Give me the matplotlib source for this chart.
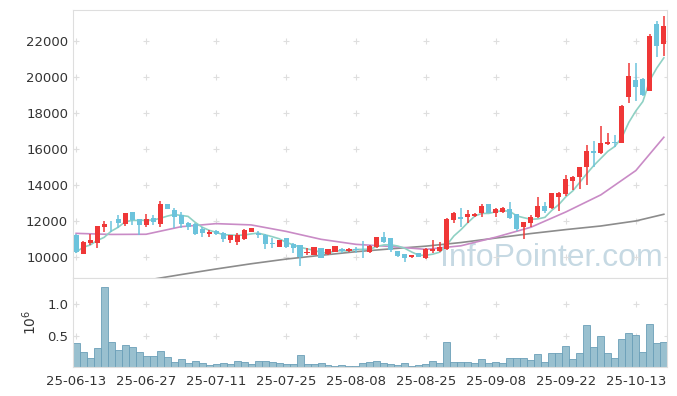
import matplotlib
matplotlib.use("Agg")
import matplotlib.pyplot as plt
import numpy as np
import pandas as pd

# trading days (KRX, holidays removed)
holidays = ["2025-08-15", "2025-10-03", "2025-10-06", "2025-10-07", "2025-10-08", "2025-10-09"]
dates = pd.bdate_range("2025-06-13", "2025-10-17")
dates = dates[~dates.isin(pd.to_datetime(holidays))]

# OHLC
opens = [11180, 10190, 10800, 10760, 11670, 11990, 12060, 11815, 12460, 12060,
         11780, 12150, 11815, 12940, 12570, 12280, 11870, 11815, 11500, 11300,
         11430, 11315, 10950, 10850, 11000, 11410, 11320, 11220, 10760, 10574,
         11000, 10704, 10630, 10200, 10111, 10444, 10148, 10296, 10390, 10330,
         10400, 10440, 10260, 10574, 11093, 11040, 10300, 10111, 9981, 10167,
         9963, 10350, 10352, 10426, 12056, 12170, 12241, 12300, 12426, 12889,
         12426, 12519, 12648, 12333, 11685, 11907, 12241, 12778, 12704, 13315,
         13481, 14241, 14463, 14981, 15889, 15796, 16278, 16370, 16352, 18907,
         19833, 19889, 19222, 22944, 21815]
highs = [11260, 10900, 11300, 11680, 12020, 12000, 12330, 12430, 12520, 12060,
         12370, 12330, 13130, 12940, 12700, 12480, 11930, 11870, 11680, 11500,
         11480, 11400, 11200, 11315, 11540, 11600, 11440, 11260, 11040, 10890,
         11000, 10760, 10680, 10480, 10520, 10480, 10440, 10574, 10520, 10480,
         10570, 10890, 10650, 11093, 11370, 11040, 10350, 10111, 10111, 10167,
         10481, 10944, 10852, 12150, 12519, 12704, 12611, 12460, 12926, 12889,
         12741, 12800, 13037, 12333, 11963, 12333, 13352, 13074, 13500, 13600,
         14556, 14519, 14981, 16222, 16444, 17278, 16870, 16778, 18444, 20796,
         20796, 19963, 22389, 23130, 23389]
lows = [10200, 10180, 10650, 10480, 11400, 11400, 11630, 11740, 11780, 11220,
        11650, 11780, 11685, 12670, 11630, 11630, 11500, 11220, 11130, 11130,
        11200, 10850, 10800, 10670, 10950, 11380, 11070, 10440, 10480, 10574,
        10480, 10200, 9500, 10130, 10100, 9926, 10111, 10250, 10200, 10300,
        10240, 9930, 10200, 10500, 10800, 10250, 10000, 9741, 9950, 9981,
        9889, 10204, 10300, 10400, 11870, 11685, 11870, 12240, 12240, 12426,
        12204, 12460, 12100, 11463, 11000, 11685, 12150, 12426, 12650, 12550,
        13400, 13722, 13759, 14000, 15019, 15700, 16200, 16130, 16352, 18574,
        18685, 18944, 19222, 21130, 21185]
closes = [10260, 10820, 10900, 11670, 11780, 11970, 11910, 12426, 12060, 11780,
          12056, 11930, 12890, 12670, 12240, 11815, 11650, 11260, 11315, 11370,
          11260, 10980, 11170, 11220, 11460, 11560, 11220, 10700, 10700, 10889,
          10574, 10520, 10020, 10240, 10519, 9926, 10389, 10574, 10330, 10420,
          10370, 10420, 10610, 11093, 10852, 10390, 10070, 9963, 10056, 9981,
          10389, 10390, 10537, 12093, 12426, 12130, 12370, 12370, 12796, 12426,
          12611, 12667, 12148, 11537, 11926, 12185, 12778, 12574, 13500, 13537,
          14333, 14426, 14981, 15889, 15796, 16296, 16389, 16340, 18352, 20019,
          19463, 19000, 22278, 21741, 22833]
volume = [0.379, 0.237, 0.142, 0.30, 1.279, 0.395, 0.268, 0.347, 0.316, 0.237,
          0.174, 0.174, 0.253, 0.158, 0.079, 0.126, 0.063, 0.095, 0.063, 0.032,
          0.047, 0.063, 0.047, 0.095, 0.079, 0.047, 0.095, 0.095, 0.079, 0.063,
          0.047, 0.047, 0.189, 0.047, 0.047, 0.063, 0.032, 0.016, 0.032, 0.016,
          0.016, 0.063, 0.079, 0.095, 0.063, 0.047, 0.032, 0.063, 0.016, 0.032,
          0.047, 0.095, 0.063, 0.395, 0.079, 0.079, 0.079, 0.063, 0.126, 0.063,
          0.079, 0.063, 0.142, 0.142, 0.142, 0.111, 0.205, 0.079, 0.221, 0.221,
          0.332, 0.126, 0.221, 0.663, 0.316, 0.489, 0.221, 0.142, 0.442, 0.537,
          0.505, 0.237, 0.679, 0.379, 0.395]

# longer moving averages (need history before the window)
ma_idx = [0, 5, 10, 15, 20, 25, 30, 35, 40, 45, 50, 55, 60, 65, 70, 75, 80, 84]
ma20 = [11310, 11250, 11260, 11680, 11850, 11780, 11420, 10980, 10700, 10580,
        10420, 10620, 11100, 11650, 12500, 13450, 14800, 16650]
ma60 = [8100, 8400, 8700, 9020, 9330, 9620, 9880, 10090, 10290, 10450,
        10600, 10800, 11050, 11300, 11520, 11720, 12000, 12370]

x = np.arange(len(dates))
o = np.array(opens); h = np.array(highs); l = np.array(lows); c = np.array(closes)
ma5 = pd.Series(c).rolling(5, min_periods=1).mean()

RED = "#ef3737"
BLUE = "#6cc3dc"
GRID = "#dedede"

fig = plt.figure(figsize=(6.77, 3.96), dpi=100)
ax = fig.add_axes([0.1078, 0.298, 0.8774, 0.6767])
axv = fig.add_axes([0.1078, 0.0732, 0.8774, 0.2248], sharex=ax)

ax.text(0.805, 0.075, "InfoPointer.com", transform=ax.transAxes, ha="center", va="center",
        fontsize=23, color="#c6d9e3", family="Liberation Sans", zorder=0)

ax.plot(ma_idx, ma60, color="#8c8c8c", lw=1.2, zorder=2)
ax.plot(ma_idx, ma20, color="#c98bc6", lw=1.2, zorder=2)
ax.plot(x, ma5, color="#8fd1c4", lw=1.2, zorder=2)

up = c >= o
col = np.where(up, RED, BLUE)
ax.vlines(x, l, h, colors=col, lw=1.1, zorder=3)
ax.bar(x, np.abs(c - o) + 25, bottom=np.minimum(o, c), width=0.72, color=col, zorder=4)

axv.bar(x, np.array(volume) * 1e6, width=1.0, color="#99c0cf", edgecolor="#6b9fb8", lw=0.6)

ax.set_xlim(-0.45, 84.45)
ax.set_ylim(8830, 23720)
axv.set_ylim(0, 1.415e6)

yt = [10000, 12000, 14000, 16000, 18000, 20000, 22000]
ax.set_yticks(yt)
ax.set_yticklabels([str(v) for v in yt])
xt = list(range(0, 85, 10))
axv.set_xticks(xt)
axv.set_xticklabels([dates[i].strftime("%y-%m-%d") for i in xt])
axv.set_yticks([0.5e6, 1.0e6])
axv.set_yticklabels(["0.5", "1.0"])
axv.set_ylabel("10$^6$", fontsize=10, color="#333333", labelpad=6)
plt.setp(ax.get_xticklabels(), visible=False)

# light "+" marks where the grid lines would cross
gx, gy = np.meshgrid(xt + [84.45], yt)
ax.scatter(gx.ravel(), gy.ravel(), marker="+", s=18, color=GRID, lw=0.8, zorder=1)
gx2, gy2 = np.meshgrid(xt + [84.45], [0.5e6, 1.0e6])
axv.scatter(gx2.ravel(), gy2.ravel(), marker="+", s=18, color=GRID, lw=0.8, zorder=0)

for a in (ax, axv):
    for s in a.spines.values():
        s.set_color(GRID)
    a.tick_params(axis="both", direction="in", length=3, color=GRID, labelsize=9.5,
                  labelcolor="#333333")
    a.tick_params(axis="x", length=0, pad=6)

fig.savefig("out.png", dpi=100)
